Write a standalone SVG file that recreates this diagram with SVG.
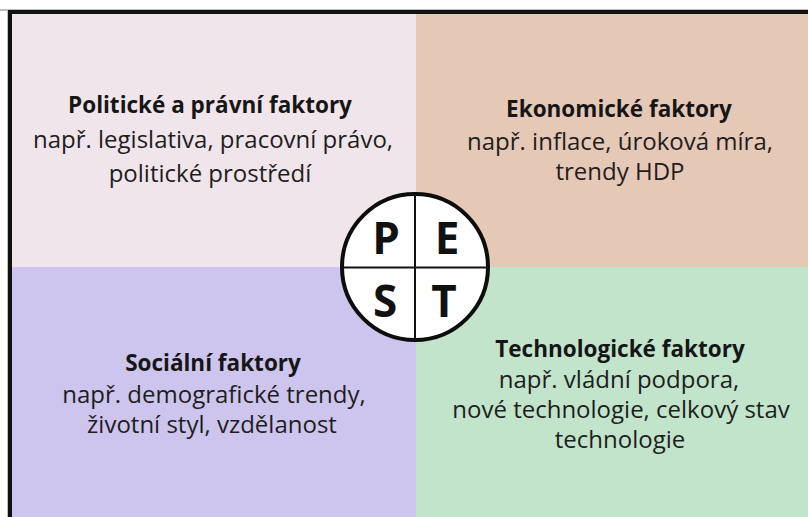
<svg xmlns="http://www.w3.org/2000/svg" width="808" height="517" viewBox="0 0 808 517">
  <style>
    .title { font-family: "Open Sans", "Noto Sans", sans-serif; font-weight: 700; font-size: 22.5px; fill: #161616; text-anchor: middle; }
    .body { font-family: "Open Sans", "Noto Sans", sans-serif; font-weight: 400; font-size: 24px; fill: #1e1e1e; text-anchor: middle; }
    .letter { font-family: "Open Sans", "Noto Sans", sans-serif; font-weight: 700; font-size: 44px; fill: #111; text-anchor: middle; }
  </style>
  <rect x="0" y="0" width="808" height="517" fill="#ffffff"/>

  <!-- quadrants -->
  <g id="political">
    <rect x="12" y="13" width="404" height="254" fill="#f0e5eb"/>
    <text class="title" x="210" y="113">Politické a právní faktory</text>
    <text class="body" x="213" y="148">např. legislativa, pracovní právo,</text>
    <text class="body" x="210" y="182">politické prostředí</text>
  </g>
  <g id="economic">
    <rect x="416" y="13" width="392" height="254" fill="#e6c8b6"/>
    <text class="title" x="619" y="117">Ekonomické faktory</text>
    <text class="body" x="620" y="150">např. inflace, úroková míra,</text>
    <text class="body" x="620" y="180">trendy HDP</text>
  </g>
  <g id="social">
    <rect x="12" y="267" width="404" height="250" fill="#cdc5ed"/>
    <text class="title" x="213" y="371">Sociální faktory</text>
    <text class="body" x="214" y="403">např. demografické trendy,</text>
    <text class="body" x="212" y="433">životní styl, vzdělanost</text>
  </g>
  <g id="technological">
    <rect x="416" y="267" width="392" height="250" fill="#c1e4cb"/>
    <text class="title" x="620" y="357">Technologické faktory</text>
    <text class="body" x="619" y="388">např. vládní podpora,</text>
    <text class="body" x="621" y="418">nové technologie, celkový stav</text>
    <text class="body" x="620" y="448">technologie</text>
  </g>

  <!-- frame along top and left edges -->
  <g id="frame">
    <rect x="0" y="9" width="808" height="2" fill="#bdbdbd"/>
    <rect x="7" y="10" width="2" height="507" fill="#bdbdbd"/>
    <rect x="8" y="10" width="800" height="4" fill="#111"/>
    <rect x="8" y="10" width="4" height="507" fill="#111"/>
  </g>

  <!-- PEST circle -->
  <g id="pest">
    <circle cx="415" cy="267" r="73" fill="#ffffff" stroke="#0d0d0d" stroke-width="4"/>
    <line x1="415" y1="194" x2="415" y2="340" stroke="#111" stroke-width="2"/>
    <line x1="342" y1="267.5" x2="488" y2="267.5" stroke="#111" stroke-width="2"/>
    <text class="letter" x="386" y="254">P</text>
    <text class="letter" x="447" y="254">E</text>
    <text class="letter" x="385" y="317">S</text>
    <text class="letter" x="444" y="317">T</text>
  </g>
</svg>
